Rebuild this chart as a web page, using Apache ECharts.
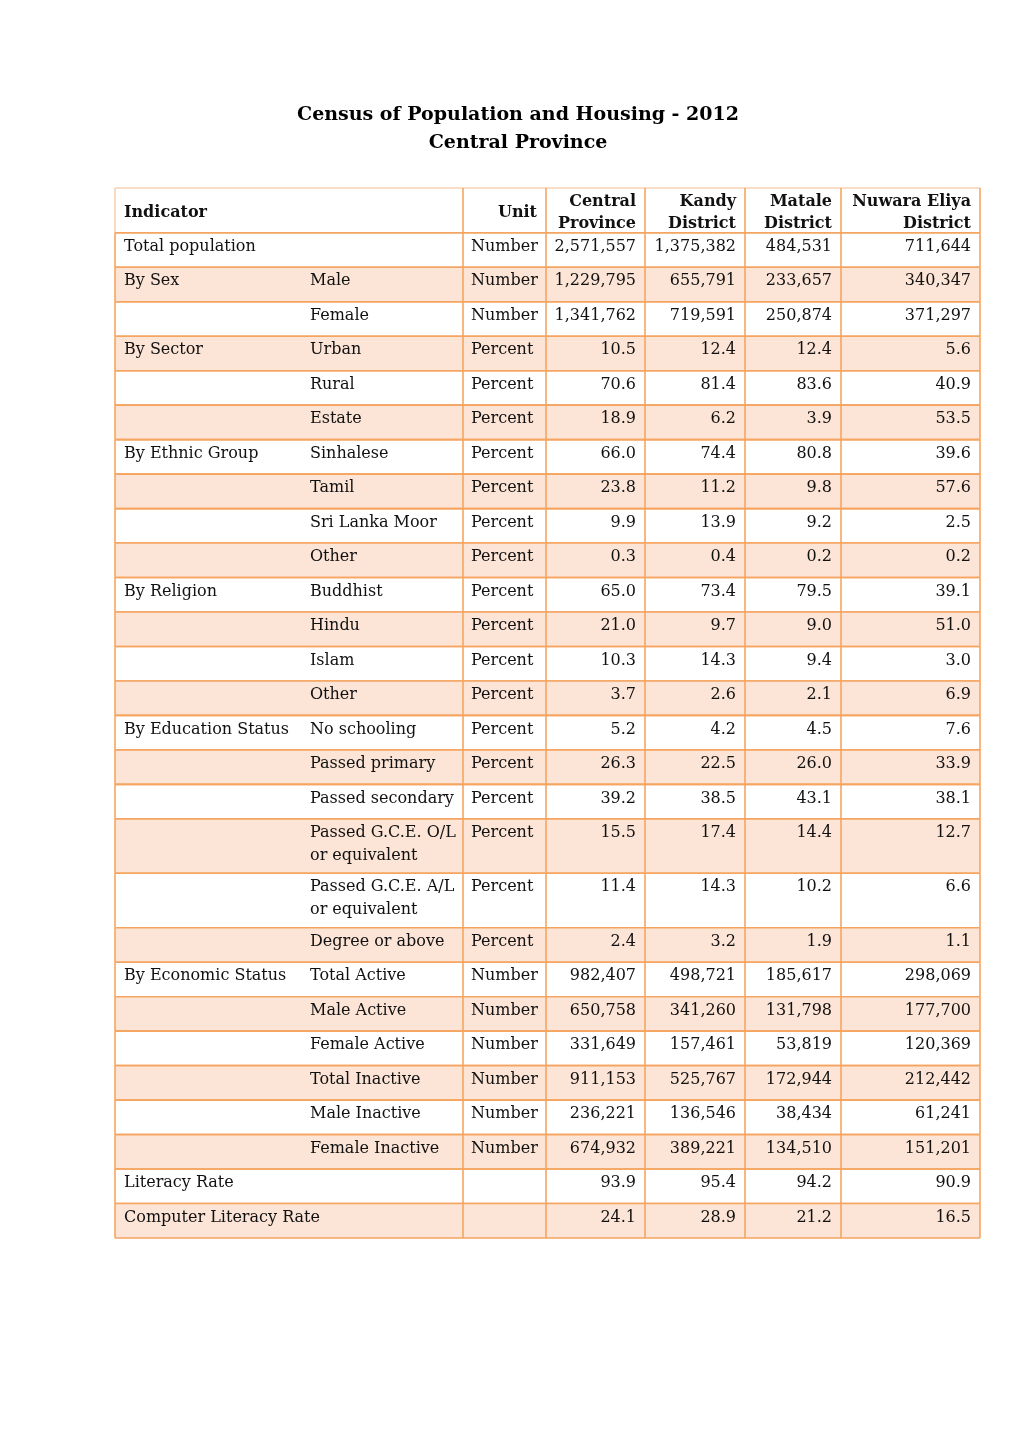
<!DOCTYPE html>
<html><head><meta charset="utf-8">
<script src="https://cdn.jsdelivr.net/npm/echarts@6/dist/echarts.min.js"></script>
<style>html,body{margin:0;padding:0;background:#fff}#c{width:1020px;height:1442px}</style>
</head><body><div id="c"></div>
<script>
const titleLines = ['Census of Population and Housing - 2012', 'Central Province'];
const headerIndicator = 'Indicator';
const headerUnit = 'Unit';
const columnHeaders = ['Central\nProvince', 'Kandy\nDistrict', 'Matale\nDistrict', 'Nuwara Eliya\nDistrict'];

const groupLabels = ['Total population','By Sex','','By Sector','','','By Ethnic Group','','','','By Religion','','','','By Education Status','','','','','','By Economic Status','','','','','','Literacy Rate','Computer Literacy Rate'];
const subLabels = ['','Male','Female','Urban','Rural','Estate','Sinhalese','Tamil','Sri Lanka Moor','Other','Buddhist','Hindu','Islam','Other','No schooling','Passed primary','Passed secondary','Passed G.C.E. O/L\nor equivalent','Passed G.C.E. A/L\nor equivalent','Degree or above','Total Active','Male Active','Female Active','Total Inactive','Male Inactive','Female Inactive','',''];
const units = ['Number','Number','Number','Percent','Percent','Percent','Percent','Percent','Percent','Percent','Percent','Percent','Percent','Percent','Percent','Percent','Percent','Percent','Percent','Percent','Number','Number','Number','Number','Number','Number','',''];
const centralProvince = [2571557,1229795,1341762,10.5,70.6,18.9,66.0,23.8,9.9,0.3,65.0,21.0,10.3,3.7,5.2,26.3,39.2,15.5,11.4,2.4,982407,650758,331649,911153,236221,674932,93.9,24.1];
const kandyDistrict = [1375382,655791,719591,12.4,81.4,6.2,74.4,11.2,13.9,0.4,73.4,9.7,14.3,2.6,4.2,22.5,38.5,17.4,14.3,3.2,498721,341260,157461,525767,136546,389221,95.4,28.9];
const mataleDistrict = [484531,233657,250874,12.4,83.6,3.9,80.8,9.8,9.2,0.2,79.5,9.0,9.4,2.1,4.5,26.0,43.1,14.4,10.2,1.9,185617,131798,53819,172944,38434,134510,94.2,21.2];
const nuwaraEliyaDistrict = [711644,340347,371297,5.6,40.9,53.5,39.6,57.6,2.5,0.2,39.1,51.0,3.0,6.9,7.6,33.9,38.1,12.7,6.6,1.1,298069,177700,120369,212442,61241,151201,90.9,16.5];

// ---- layout (styling, not data) ----
const FONT = 'DejaVu Serif';
const FS = 16;
const BORDER = '#F6A560';
const SHADE = '#FCE4D6';
const TABLE_W = 865;
const colEdges = [0, 348, 431, 530, 630, 726, 865];
const subX = 195;
const HEADER_U = 1.3, SINGLE_U = 1, DOUBLE_U = 1.58;

const valueCols = [centralProvince, kandyDistrict, mataleDistrict, nuwaraEliyaDistrict];
function fmt(v, unit) {
  if (unit === 'Number') return v.toLocaleString('en-US');
  return v.toFixed(1);
}
const rows = [];
let acc = 0;
rows.push([-1, 0, HEADER_U]); acc = HEADER_U;
for (let i = 0; i < groupLabels.length; i++) {
  const h = subLabels[i].indexOf('\n') >= 0 ? DOUBLE_U : SINGLE_U;
  rows.push([i, acc, acc + h]); acc += h;
}
const totalU = acc;

function renderItem(params, api) {
  const i = api.value(0);
  const p0 = api.coord([0, api.value(1)]);
  const p1 = api.coord([TABLE_W, api.value(2)]);
  const x0 = p0[0], y0 = p0[1], y1 = p1[1];
  const xs = colEdges.map(e => api.coord([e, 0])[0]);
  const ch = [];
  if (i >= 0 && i % 2 === 1) {
    ch.push({type:'rect', shape:{x:x0, y:y0, width:xs[6]-x0, height:y1-y0}, style:{fill:SHADE}});
  }
  const base = {fontFamily: FONT, fontSize: FS, fill:'#111'};
  if (i < 0) {
    const ym = (y0 + y1) / 2 + 2;
    ch.push({type:'text', style:Object.assign({}, base, {text:headerIndicator, x:x0+9, y:ym, fontWeight:'bold', verticalAlign:'middle', align:'left'})});
    ch.push({type:'text', style:Object.assign({}, base, {text:headerUnit, x:xs[2]-9, y:ym, fontWeight:'bold', verticalAlign:'middle', align:'right'})});
    columnHeaders.forEach((t, k) => {
      ch.push({type:'text', style:Object.assign({}, base, {text:t, x:xs[k+3]-9, y:ym, fontWeight:'bold', verticalAlign:'middle', align:'right', lineHeight:22})});
    });
  } else {
    const ty = y0 + 2.5;
    const unit = units[i];
    ch.push({type:'text', style:Object.assign({}, base, {text:groupLabels[i], x:x0+9, y:ty, verticalAlign:'top', align:'left', lineHeight:23})});
    if (subLabels[i]) ch.push({type:'text', style:Object.assign({}, base, {text:subLabels[i], x:x0+subX, y:ty, verticalAlign:'top', align:'left', lineHeight:23})});
    if (unit) ch.push({type:'text', style:Object.assign({}, base, {text:unit, x:xs[1]+8, y:ty, verticalAlign:'top', align:'left', lineHeight:23})});
    valueCols.forEach((arr, k) => {
      ch.push({type:'text', style:Object.assign({}, base, {text:fmt(arr[i], unit), x:xs[k+3]-9, y:ty, verticalAlign:'top', align:'right', lineHeight:23})});
    });
  }
  ch.push({type:'line', shape:{x1:x0, y1:y0, x2:xs[6], y2:y0}, style:{stroke:(i<0) ? '#FAD0B0' : BORDER, lineWidth:1.6}});
  ch.push({type:'line', shape:{x1:x0, y1:y1, x2:xs[6], y2:y1}, style:{stroke:BORDER, lineWidth:1.6}});
  [0,1,2,3,4,5,6].forEach(k => {
    ch.push({type:'line', shape:{x1:xs[k], y1:y0, x2:xs[k], y2:y1}, style:{stroke:(i<0 && k===0) ? '#FAD0B0' : BORDER, lineWidth:1.6}});
  });
  return {type:'group', children:ch};
}

const chart = echarts.init(document.getElementById('c'), null, {renderer:'canvas'});
chart.setOption({
  animation:false,
  title:{text:titleLines.join('\n'), left:513, textAlign:'center', top:96, textStyle:{fontFamily:FONT, fontSize:19, fontWeight:'bold', lineHeight:28, color:'#000'}},
  grid:{left:115, top:188, width:TABLE_W, height:1050},
  xAxis:{type:'value', min:0, max:TABLE_W, show:false},
  yAxis:{type:'value', min:0, max:totalU, inverse:true, show:false},
  series:[{type:'custom', renderItem:renderItem, data:rows, clip:false}]
});
</script></body></html>
